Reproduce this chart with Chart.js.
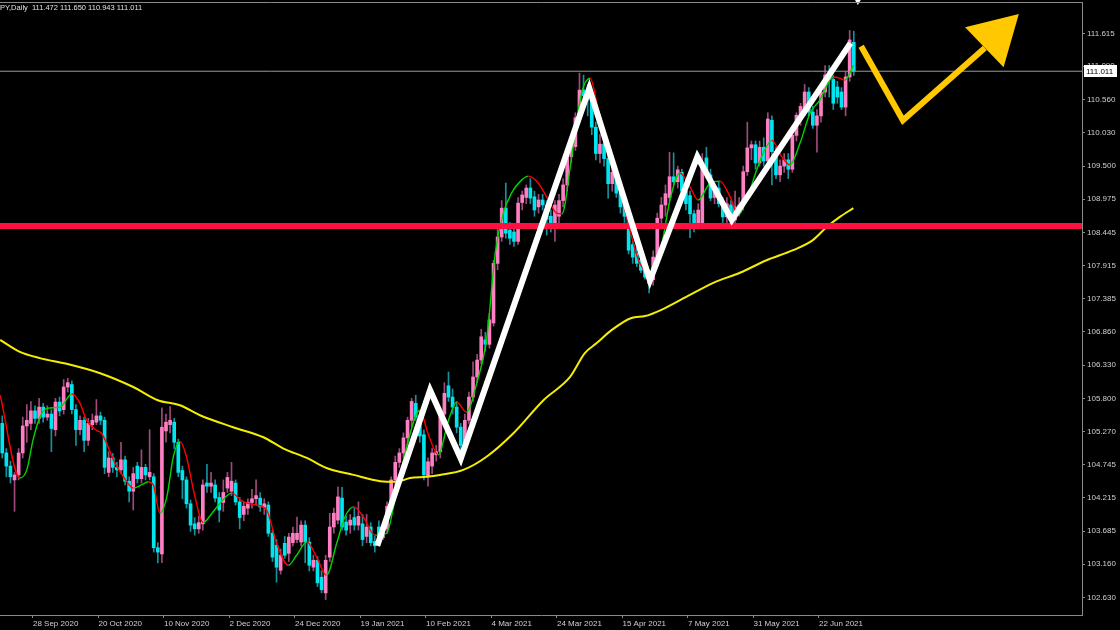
<!DOCTYPE html>
<html>
<head>
<meta charset="utf-8">
<script src="https://cdn.jsdelivr.net/npm/chart.js@4.4.1/dist/chart.umd.min.js"></script>
<style>
  html, body { margin: 0; padding: 0; background: #000; }
  #wrap { width: 1120px; height: 630px; position: relative; }
</style>
</head>
<body>
<div id="wrap"><canvas id="myChart"></canvas></div>
<script>
const headerText = 'PY,Daily  111.472 111.650 110.943 111.011';

// daily candles, first one is bar -8 (bar 0 = 28 Sep 2020)
const firstBar = -8;
const opens = [
  105.40,104.93,104.72,104.50,104.58,104.93,105.36,105.40,105.60,105.48,
  105.66,105.50,105.55,105.30,105.74,105.62,105.98,106.02,105.62,105.30,
  105.45,105.13,105.38,105.42,105.52,105.45,104.62,104.85,104.70,104.66,
  104.82,104.48,104.32,104.72,104.52,104.70,104.55,104.55,103.42,103.32,
  105.28,105.38,105.42,105.10,104.65,104.50,104.12,103.80,103.72,103.80,
  104.45,104.40,104.42,104.22,104.14,104.37,104.32,104.45,104.15,103.95,
  104.05,104.14,104.20,104.21,104.06,104.10,103.65,103.46,103.06,103.49,
  103.33,103.50,103.55,103.51,103.78,103.51,103.11,103.22,102.95,102.70,
  103.27,103.75,103.86,104.21,103.83,103.78,103.90,103.78,103.80,103.60,
  103.75,103.52,103.75,103.58,103.72,104.08,104.50,104.78,104.93,105.17,
  105.45,105.72,105.50,105.22,104.55,104.72,104.90,104.95,105.55,106.00,
  105.82,105.66,105.34,105.08,105.45,105.82,106.14,106.41,106.73,106.66,
  107.00,107.95,108.37,108.83,108.48,108.45,108.30,108.92,109.00,109.15,
  109.01,108.85,108.96,108.88,108.70,108.55,108.70,108.95,109.20,109.65,
  109.81,110.27,110.71,110.62,110.55,110.12,109.70,109.85,109.62,109.22,
  109.40,109.07,108.88,108.70,108.25,108.11,108.00,107.89,107.79,107.69,
  108.03,108.67,108.88,109.00,109.33,109.25,109.40,109.10,109.03,108.74,
  108.55,108.56,109.63,109.36,109.00,109.15,108.93,108.69,108.88,108.64,
  108.80,108.88,109.41,109.79,109.84,109.55,109.80,109.58,110.23,109.73,
  109.36,109.50,109.60,109.45,109.99,110.31,110.40,110.68,110.36,110.15,
  110.30,110.68,110.94,110.88,110.76,110.68,110.44,110.92,111.472
];
const highs = [
  105.52,105.00,104.80,104.62,105.00,105.50,105.70,105.75,105.68,105.80,
  105.72,105.68,105.62,105.80,105.82,106.10,106.12,106.08,105.70,105.52,
  105.50,105.48,105.55,105.78,105.58,105.50,104.95,104.92,104.78,105.10,
  104.88,104.55,104.70,104.78,104.98,104.75,105.30,104.60,103.50,105.65,
  105.55,105.67,105.48,105.15,104.72,104.55,104.18,103.90,103.92,104.50,
  104.75,104.62,104.50,104.30,104.50,104.62,104.78,104.50,104.22,104.15,
  104.20,104.35,104.50,104.30,104.20,104.15,103.70,103.55,103.40,103.60,
  103.65,103.75,103.91,103.85,103.85,103.58,103.30,103.28,103.05,103.30,
  103.97,104.05,104.39,104.38,103.92,103.95,104.05,104.15,103.95,103.95,
  103.82,103.60,103.85,103.80,104.15,104.55,104.88,105.00,105.25,105.50,
  105.80,105.85,105.60,105.30,104.85,105.00,105.05,105.60,106.05,106.22,
  105.95,105.75,105.40,105.55,105.90,106.38,106.50,106.90,106.85,107.15,
  108.00,108.50,108.95,109.23,108.60,108.55,109.00,109.10,109.20,109.30,
  109.10,109.05,109.05,108.95,108.80,108.95,109.05,109.30,109.70,109.95,
  110.35,110.98,110.95,110.80,110.62,110.20,110.00,110.00,109.70,109.50,
  109.50,109.15,108.95,108.75,108.30,108.20,108.05,107.95,107.85,108.15,
  108.75,109.00,109.20,109.72,109.71,109.50,109.45,109.30,109.10,108.80,
  108.90,109.70,109.80,109.45,109.20,109.25,109.00,109.00,108.95,109.10,
  109.00,109.50,110.20,109.90,109.90,109.90,109.95,110.35,110.30,109.80,
  109.60,109.70,109.70,110.05,110.35,110.50,110.80,110.75,110.45,110.40,
  110.75,111.10,111.10,110.95,110.85,110.75,111.00,111.66,111.650
];
const lows = [
  104.85,104.55,104.45,104.00,104.50,104.85,105.10,105.30,105.40,105.40,
  105.42,105.45,104.95,105.20,105.52,105.55,105.90,105.55,105.05,105.22,
  104.95,105.05,105.30,105.38,105.38,104.60,104.55,104.62,104.55,104.60,
  104.42,104.15,104.02,104.45,104.45,104.50,104.50,103.35,103.18,103.18,
  105.10,105.25,105.00,104.55,104.20,104.05,103.68,103.62,103.65,103.70,
  104.30,104.30,104.15,103.83,104.00,104.30,104.25,104.10,103.72,103.85,
  103.95,104.05,104.10,104.00,103.95,103.60,103.20,102.87,103.00,103.25,
  103.20,103.45,103.50,103.45,103.18,103.05,103.05,102.80,102.70,102.59,
  103.20,103.65,103.80,103.70,103.62,103.65,103.70,103.70,103.45,103.50,
  103.45,103.35,103.52,103.55,103.65,104.00,104.42,104.70,104.85,105.05,
  105.35,105.45,105.10,104.50,104.40,104.60,104.80,104.85,105.45,105.75,
  105.55,105.25,104.95,105.00,105.40,105.75,106.05,106.35,106.55,106.60,
  106.95,107.85,108.30,108.35,108.25,108.22,108.25,108.80,108.90,108.90,
  108.70,108.75,108.80,108.40,108.45,108.30,108.60,108.85,109.10,109.55,
  109.75,110.20,110.45,110.30,110.00,109.60,109.55,109.50,108.99,109.10,
  109.00,108.75,108.60,108.10,107.95,107.90,107.80,107.70,107.48,107.60,
  107.95,108.50,108.70,108.95,109.20,109.15,109.05,108.80,108.36,108.45,
  108.50,108.50,109.30,108.95,108.90,108.85,108.60,108.60,108.55,108.58,
  108.70,108.80,109.35,109.60,109.45,109.50,109.50,109.50,109.20,109.30,
  109.25,109.40,109.30,109.40,109.90,110.15,110.30,110.30,110.10,109.72,
  110.20,110.60,110.60,110.40,110.50,110.40,110.30,110.85,110.943
];
const closes = [
  104.93,104.72,104.55,104.58,104.93,105.36,105.45,105.60,105.48,105.66,
  105.50,105.55,105.32,105.74,105.60,105.98,106.05,105.62,105.30,105.45,
  105.13,105.40,105.45,105.52,105.45,104.70,104.85,104.70,104.66,104.82,
  104.48,104.32,104.60,104.52,104.70,104.58,104.62,103.42,103.35,105.34,
  105.42,105.45,105.10,104.62,104.50,104.12,103.78,103.72,103.82,104.42,
  104.40,104.45,104.21,104.02,104.30,104.54,104.48,104.15,103.90,104.08,
  104.14,104.20,104.25,104.07,104.12,103.65,103.27,103.11,103.30,103.30,
  103.59,103.65,103.65,103.78,103.51,103.14,103.22,102.86,102.75,103.22,
  103.75,103.97,104.23,103.75,103.70,103.86,103.78,103.92,103.55,103.75,
  103.50,103.45,103.58,103.72,104.08,104.50,104.78,104.93,105.17,105.45,
  105.75,105.50,105.20,104.58,104.79,104.93,104.95,105.55,105.88,105.82,
  105.66,105.34,105.05,105.45,105.82,106.14,106.41,106.78,106.66,107.05,
  107.95,108.37,108.83,108.43,108.35,108.30,108.91,109.04,109.15,108.99,
  108.80,108.96,108.88,108.65,108.55,108.88,108.95,109.20,109.65,109.84,
  110.27,110.71,110.62,110.55,110.12,109.70,109.85,109.62,109.22,109.40,
  109.07,108.85,108.70,108.16,108.05,107.95,107.84,107.73,107.63,108.05,
  108.67,108.88,109.06,109.33,109.25,109.44,109.10,108.90,108.74,108.51,
  108.80,109.52,109.36,108.99,109.12,108.90,108.69,108.90,108.64,108.85,
  108.88,109.41,109.79,109.84,109.55,109.80,109.58,110.25,109.73,109.36,
  109.50,109.60,109.45,109.99,110.31,110.45,110.68,110.36,110.15,110.30,
  110.68,110.95,110.88,110.50,110.60,110.44,110.92,111.51,111.011
];

// fast moving average (green up / red down)
const fastMaBars = [-8.5,-3.7,-2,-0.5,1.2,2.9,6.1,9,11,12.6,15,16.3,19.5,21.6,24,26,27.7,28.9,30.5,32.2,
  33.8,35.4,37,38.7,41.1,43,45.2,48,50.9,54.1,56.6,59,61.9,63.9,66.4,68.8,71.2,73.7,75.7,77.9,
  80.2,83,85.9,87.9,90.8,94,96,98.5,101,103,105.4,107.9,110.3,112.5,114.4,116.4,118.9,120.5,122.9,125.4,
  127.4,128.7,131.1,133.5,135.6,137.6,140.9,144.1,147.4,149.4,150.6,153,155.1,157.5,160,162,164.9,167.3,169.8,171.8,
  173.8,176.3,177.9,180,182.4,184.4,186.9,189.3,191.7,195,196.6,197.8,200];
const fastMaValues = [105.85,104.53,104.66,105.13,105.50,105.64,105.66,105.87,105.72,105.45,105.29,105.24,104.77,104.55,104.37,104.42,104.47,104.42,103.97,104.23,
  104.87,105.11,104.87,104.34,103.82,103.95,104.13,104.29,104.15,104.10,104.02,103.49,103.14,103.30,103.51,103.27,102.98,103.49,103.91,104.07,
  103.91,103.62,103.65,104.18,105.03,105.61,105.24,104.90,105.45,105.74,105.58,106.04,106.73,108.15,108.75,109.07,109.28,109.34,109.23,108.96,
  108.75,108.74,109.65,110.66,110.90,110.39,109.60,108.80,108.00,107.80,107.72,108.21,108.96,109.39,109.17,108.96,109.23,109.26,109.01,108.72,
  108.96,109.44,109.71,109.91,109.65,109.52,109.87,110.34,110.55,110.92,110.90,110.87,111.11];

// slow moving average (yellow)
const slowMaBars = [-8.5,-3.7,1.2,7.7,15.9,24,30,35.4,40.3,48.4,55.8,60.7,66.4,71.2,77.8,84.3,88.3,91.6,95.7,98.9,
  104.6,110.3,116.8,124.2,130.7,134.3,137.2,140.9,145.7,149,153,159.2,165.7,172.2,178.7,185.2,190,193.4,196.6,199.9];
const slowMaValues = [106.73,106.54,106.44,106.35,106.20,105.98,105.77,105.69,105.53,105.34,105.18,105.00,104.85,104.69,104.58,104.48,104.47,104.53,104.55,104.58,
  104.66,104.87,105.24,105.77,106.14,106.52,106.68,106.89,107.08,107.11,107.21,107.42,107.64,107.80,108.00,108.16,108.32,108.53,108.69,108.83];

// hand drawn swing lines
const zigzagBars = [83.6, 96.5, 104, 135.4, 150.2, 161.8, 170.2, 199.2];
const zigzagPrices = [103.45, 105.93, 104.84, 110.74, 107.68, 109.65, 108.64, 111.46];
const forecastBars = [201.8, 212, 232];
const forecastPrices = [111.41, 110.23, 111.38];
const arrowHeadBar = 234.7;
const arrowHeadPrice = 111.57;

const supportLevel = 108.545;
const lastPrice = 111.011;
const shiftMarkBar = 201;
const shiftMarkPrice = 112.13;

const dateTicks = [-0.5, 15.5, 31.5, 47.5, 63.5, 79.5, 95.5, 111.5, 127.5, 143.5, 159.5, 175.5, 191.5];
const dateLabels = ['28 Sep 2020', '20 Oct 2020', '10 Nov 2020', '2 Dec 2020', '24 Dec 2020', '19 Jan 2021',
  '10 Feb 2021', '4 Mar 2021', '24 Mar 2021', '15 Apr 2021', '7 May 2021', '31 May 2021', '22 Jun 2021'];
const priceTicks = [111.615, 111.090, 110.560, 110.030, 109.500, 108.975, 108.445, 107.915, 107.385,
  106.860, 106.330, 105.800, 105.270, 104.745, 104.215, 103.685, 103.160, 102.630];

const upColor = '#ff7fc4';
const downColor = '#00e6f0';
const upWick = '#a04a7c';
const downWick = '#14939c';
const frameColor = '#8a8a8a';
const textColor = '#cfcfcf';
const gold = '#ffc800';

Chart.defaults.font.family = '"Liberation Sans", Arial, sans-serif';
Chart.defaults.font.size = 8;
Chart.defaults.color = textColor;

const wickData = opens.map((o, k) => ({ x: firstBar + k, y: [lows[k], highs[k]] }));
const bodyData = opens.map((o, k) => ({ x: firstBar + k, y: [Math.min(o, closes[k]), Math.max(o, closes[k])] }));
const isUp = k => closes[k] >= opens[k];

function toPoints(xs, ys) {
  return xs.map((x, k) => ({ x: x, y: ys[k] }));
}

const chartDecor = {
  id: 'chartDecor',
  afterDraw(chart) {
    const { ctx, chartArea, scales } = chart;
    ctx.save();
    ctx.strokeStyle = frameColor;
    ctx.lineWidth = 1;
    ctx.beginPath();
    ctx.moveTo(0, chartArea.top + 0.5);
    ctx.lineTo(chartArea.right + 0.5, chartArea.top + 0.5);
    ctx.stroke();

    ctx.font = '7.5px "Liberation Sans", Arial, sans-serif';
    ctx.fillStyle = '#e0e0e0';
    ctx.textBaseline = 'middle';
    ctx.textAlign = 'left';
    ctx.fillText(headerText, 0, 8);

    const y = Math.round(scales.y.getPixelForValue(lastPrice));
    ctx.fillStyle = '#ffffff';
    ctx.fillRect(scales.y.left + 2, y - 6, 33, 12);
    ctx.fillStyle = '#000000';
    ctx.font = '8px "Liberation Sans", Arial, sans-serif';
    ctx.fillText(lastPrice.toFixed(3), scales.y.left + 4, y + 0.5);
    ctx.restore();
  }
};

const ctx = document.querySelector('#myChart').getContext('2d');
const myChart = new Chart(ctx, {
  type: 'bar',
  data: {
    datasets: [
      {
        type: 'line',
        data: [{ x: shiftMarkBar, y: shiftMarkPrice }],
        showLine: false,
        pointStyle: 'triangle',
        pointRadius: 4,
        pointRotation: 180,
        pointBackgroundColor: '#ffffff',
        pointBorderWidth: 0,
        clip: false,
        order: 0
      },
      {
        type: 'line',
        data: [{ x: arrowHeadBar, y: arrowHeadPrice }],
        showLine: false,
        pointStyle: 'triangle',
        pointRadius: 32,
        pointRotation: 46,
        pointBackgroundColor: gold,
        pointBorderWidth: 0,
        order: 1
      },
      {
        type: 'line',
        data: toPoints(forecastBars, forecastPrices),
        borderColor: gold,
        borderWidth: 6,
        pointRadius: 0,
        tension: 0,
        borderJoinStyle: 'miter',
        order: 2
      },
      {
        type: 'line',
        data: toPoints(zigzagBars, zigzagPrices),
        borderColor: '#ffffff',
        borderWidth: 6,
        pointRadius: 0,
        tension: 0,
        borderJoinStyle: 'miter',
        order: 3
      },
      {
        type: 'line',
        data: [{ x: -8.55, y: supportLevel }, { x: 255.75, y: supportLevel }],
        borderColor: '#ff1041',
        borderWidth: 6,
        pointRadius: 0,
        order: 4
      },
      {
        type: 'line',
        data: toPoints(fastMaBars, fastMaValues),
        borderWidth: 1.4,
        pointRadius: 0,
        cubicInterpolationMode: 'monotone',
        segment: {
          borderColor: c => c.p1.parsed.y >= c.p0.parsed.y ? '#00d400' : '#ff0000'
        },
        order: 5
      },
      {
        type: 'line',
        data: toPoints(slowMaBars, slowMaValues),
        borderColor: '#f5ee00',
        borderWidth: 2,
        pointRadius: 0,
        cubicInterpolationMode: 'monotone',
        order: 6
      },
      {
        type: 'line',
        data: [{ x: -8.55, y: lastPrice }, { x: 255.75, y: lastPrice }],
        borderColor: '#9a9a9a',
        borderWidth: 1,
        pointRadius: 0,
        order: 7
      },
      {
        data: bodyData,
        backgroundColor: c => isUp(c.dataIndex) ? upColor : downColor,
        barThickness: 3,
        minBarLength: 1,
        grouped: false,
        order: 8
      },
      {
        data: wickData,
        backgroundColor: c => isUp(c.dataIndex) ? upWick : downWick,
        barThickness: 1,
        grouped: false,
        order: 9
      }
    ]
  },
  options: {
    responsive: true,
    maintainAspectRatio: false,
    animation: false,
    devicePixelRatio: 1,
    layout: { autoPadding: false, padding: { top: 2, left: 0, right: 0, bottom: 0 } },
    plugins: {
      legend: { display: false },
      tooltip: { enabled: false }
    },
    scales: {
      x: {
        type: 'linear',
        position: 'bottom',
        min: -8.55,
        max: 255.75,
        offset: false,
        afterFit: s => { s.height = 15; s.paddingLeft = 0; s.paddingRight = 0; },
        afterBuildTicks: s => { s.ticks = dateTicks.map(v => ({ value: v })); },
        ticks: {
          autoSkip: false,
          maxRotation: 0,
          align: 'start',
          padding: 1,
          color: textColor,
          callback: (v, i) => dateLabels[i]
        },
        grid: { offset: false, drawOnChartArea: false, drawTicks: true, tickLength: 3, color: frameColor },
        border: { display: true, color: frameColor }
      },
      y: {
        position: 'right',
        min: 102.348,
        max: 112.114,
        afterFit: s => { s.width = 38; s.paddingTop = 0; s.paddingBottom = 0; },
        afterBuildTicks: s => { s.ticks = priceTicks.map(v => ({ value: v })); },
        ticks: {
          padding: 2,
          color: textColor,
          callback: v => v.toFixed(3)
        },
        grid: { drawOnChartArea: false, drawTicks: true, tickLength: 3, color: frameColor },
        border: { display: true, color: frameColor }
      }
    }
  },
  plugins: [chartDecor]
});
</script>
</body>
</html>
